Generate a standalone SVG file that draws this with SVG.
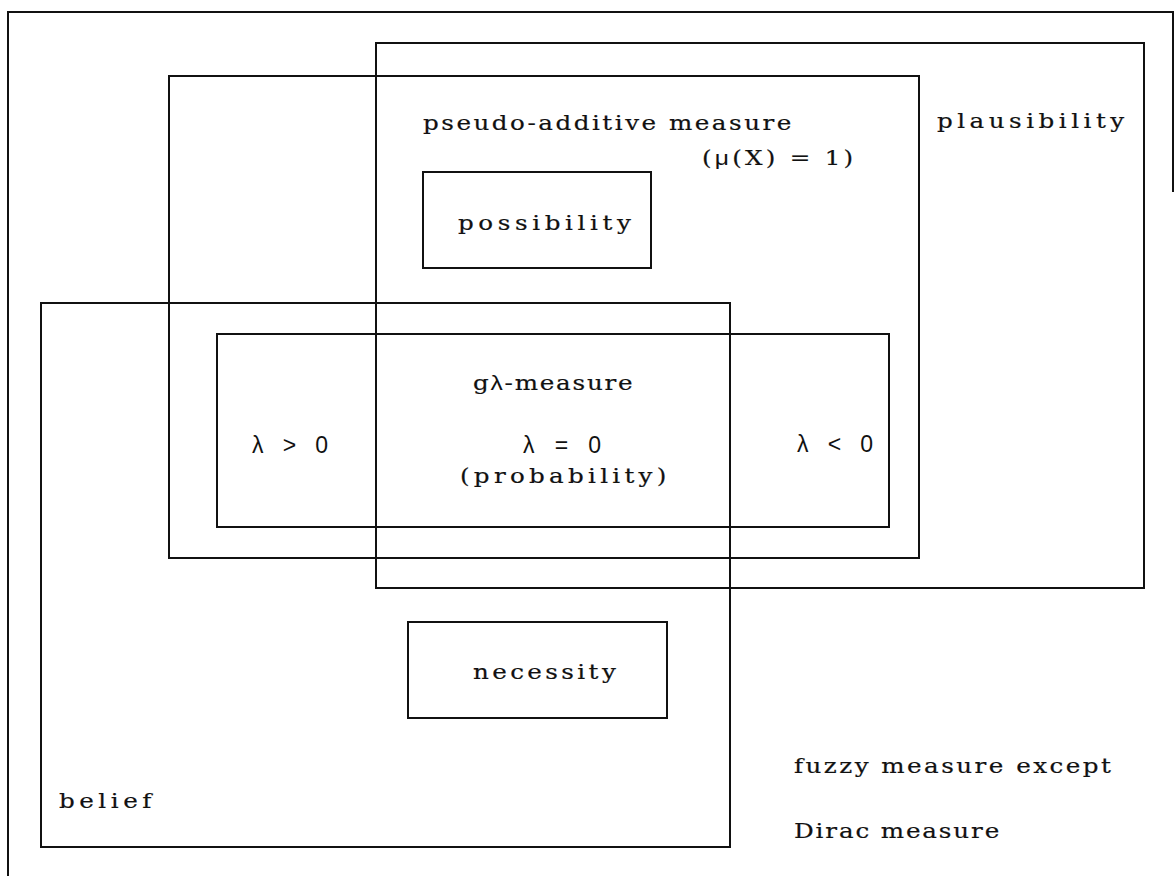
<svg xmlns="http://www.w3.org/2000/svg" width="1175" height="876" viewBox="0 0 1175 876">
  <style>
    .box { fill: none; stroke: #111; stroke-width: 2; }
    .frame { fill: none; stroke: #111; stroke-width: 2; }
    /* typewriter-like labels: serif face widened horizontally via transform */
    .lbl { font-family: "DejaVu Serif", "Liberation Serif", serif; font-size: 20.5px; fill: #111; stroke: #111; stroke-width: 0.2; }
    .sym { font-family: "Liberation Sans", "DejaVu Sans", sans-serif; font-size: 23px; fill: #111; }
    .gk { font-family: "Liberation Sans", "DejaVu Sans", sans-serif; stroke: none; }
  </style>
  <rect width="1175" height="876" fill="#ffffff"/>

  <!-- outer frame: fuzzy measure except Dirac measure -->
  <g id="fuzzy-measure">
    <path class="frame" d="M8,876 V12 H1173 V192"/>
    <text class="lbl" transform="translate(794 773) scale(1.2 1)" textLength="264" lengthAdjust="spacing">fuzzy measure except</text>
    <text class="lbl" transform="translate(794 838) scale(1.2 1)" textLength="171" lengthAdjust="spacing">Dirac measure</text>
  </g>

  <g id="plausibility">
    <rect class="box" x="376" y="43" width="768" height="545"/>
    <text class="lbl" transform="translate(937 128) scale(1.2 1)" textLength="156" lengthAdjust="spacing">plausibility</text>
  </g>

  <g id="pseudo-additive">
    <rect class="box" x="169" y="76" width="750" height="482"/>
    <text class="lbl" transform="translate(423 130) scale(1.2 1)" textLength="307" lengthAdjust="spacing">pseudo-additive measure</text>
    <text class="lbl" transform="translate(702 165) scale(1.2 1)" textLength="126" lengthAdjust="spacing">(<tspan class="gk">μ</tspan>(X) = 1)</text>
  </g>

  <g id="belief">
    <rect class="box" x="41" y="303" width="689" height="544"/>
    <text class="lbl" transform="translate(59 808) scale(1.2 1)" textLength="77" lengthAdjust="spacing">belief</text>
  </g>

  <g id="possibility">
    <rect class="box" x="423" y="172" width="228" height="96"/>
    <text class="lbl" transform="translate(458 230) scale(1.2 1)" textLength="144" lengthAdjust="spacing">possibility</text>
  </g>

  <g id="g-lambda">
    <rect class="box" x="217" y="334" width="672" height="193"/>
    <text class="lbl" transform="translate(473 390) scale(1.2 1)" textLength="133" lengthAdjust="spacing">g<tspan class="gk">λ</tspan>-measure</text>
    <text class="sym" x="523" y="453" textLength="78" lengthAdjust="spacing">λ = 0</text>
    <text class="lbl" transform="translate(460 483) scale(1.2 1)" textLength="172" lengthAdjust="spacing">(probability)</text>
    <text class="sym" x="252" y="453" textLength="76" lengthAdjust="spacing">λ &gt; 0</text>
    <text class="sym" x="797" y="452" textLength="76" lengthAdjust="spacing">λ &lt; 0</text>
  </g>

  <g id="necessity">
    <rect class="box" x="408" y="622" width="259" height="96"/>
    <text class="lbl" transform="translate(473 679) scale(1.2 1)" textLength="119" lengthAdjust="spacing">necessity</text>
  </g>

  <!-- no connectors: nesting of the boxes carries the relations -->
  <g id="connectors"/>
</svg>
